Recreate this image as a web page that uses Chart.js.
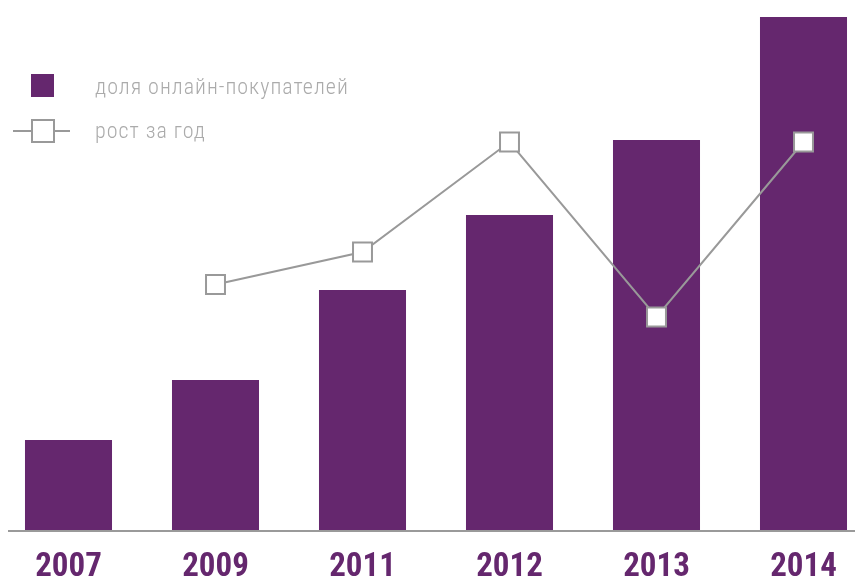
<!DOCTYPE html>
<html>
<head>
<meta charset="utf-8">
<script src="https://cdn.jsdelivr.net/npm/chart.js@4"></script>
<style>
  html, body { margin: 0; padding: 0; background: #fff; overflow: hidden; }
  #wrap { position: absolute; left: -5px; top: 0; width: 882px; height: 584px; }
  .legend { position: absolute; font-family: "Roboto Condensed", sans-serif; font-weight: 300;
            font-size: 22px; color: #ababab; letter-spacing: 1px; white-space: nowrap; }
  .sw { position: absolute; }
</style>
</head>
<body>
<div id="wrap"><canvas id="barChart" width="882" height="584"></canvas></div>

<div class="sw" style="left:31px;top:74px;width:23px;height:23px;background:#65276e"></div>
<div class="legend" style="left:95px;top:74px">доля онлайн-покупателей</div>
<div class="sw" style="left:13px;top:130px;width:57px;height:2px;background:#999"></div>
<div class="sw" style="left:31px;top:119px;width:20px;height:20px;background:#fff;border:2px solid #999"></div>
<div class="legend" style="left:95px;top:118px">рост за год</div>

<script>
// data
var years = ['2007', '2009', '2011', '2012', '2013', '2014'];
var shareOnline = [6, 10, 16, 21, 26, 34.2];
var growthYear = [null, 25.3, 26.6, 31, 24, 31];

var purple = '#65276e';
var grey = '#999999';

// baseline under the bars
var baseLine = {
    id: 'baseLine',
    afterDatasetsDraw: function (chart) {
        var ctx = chart.ctx;
        var y = chart.chartArea.bottom + 1;
        ctx.save();
        ctx.strokeStyle = '#9a9a9a';
        ctx.lineWidth = 2;
        ctx.beginPath();
        ctx.moveTo(13, y);
        ctx.lineTo(chart.width, y);
        ctx.stroke();
        ctx.restore();
    }
};

var ctx = document.getElementById('barChart').getContext('2d');
var myChart = new Chart(ctx, {
    type: 'bar',
    data: {
        labels: years,
        datasets: [{
            type: 'line',
            label: 'рост за год',
            data: growthYear,
            yAxisID: 'y1',
            borderColor: grey,
            borderWidth: 2,
            pointStyle: 'rect',
            pointRadius: 13.4,
            pointBorderWidth: 2,
            pointBorderColor: grey,
            pointBackgroundColor: '#ffffff',
            tension: 0,
            clip: false
        }, {
            label: 'доля онлайн-покупателей',
            data: shareOnline,
            backgroundColor: purple,
            barPercentage: 0.592,
            categoryPercentage: 1,
            yAxisID: 'y'
        }]
    },
    options: {
        responsive: false,
        animation: false,
        layout: { padding: 0, autoPadding: false },
        plugins: {
            legend: { display: false },
            tooltip: { enabled: false }
        },
        scales: {
            x: {
                grid: { display: false, drawTicks: false },
                border: { display: false },
                afterFit: function (scale) { scale.height = 54; },
                ticks: {
                    color: purple,
                    padding: 21,
                    font: { family: '"Roboto Condensed", sans-serif', size: 33, weight: 'bold', lineHeight: 1 }
                }
            },
            y: {
                display: false,
                min: 0,
                max: 530 / 15
            },
            y1: {
                display: false,
                min: 15.48,
                max: 36.68
            }
        }
    },
    plugins: [baseLine]
});
</script>
</body>
</html>
